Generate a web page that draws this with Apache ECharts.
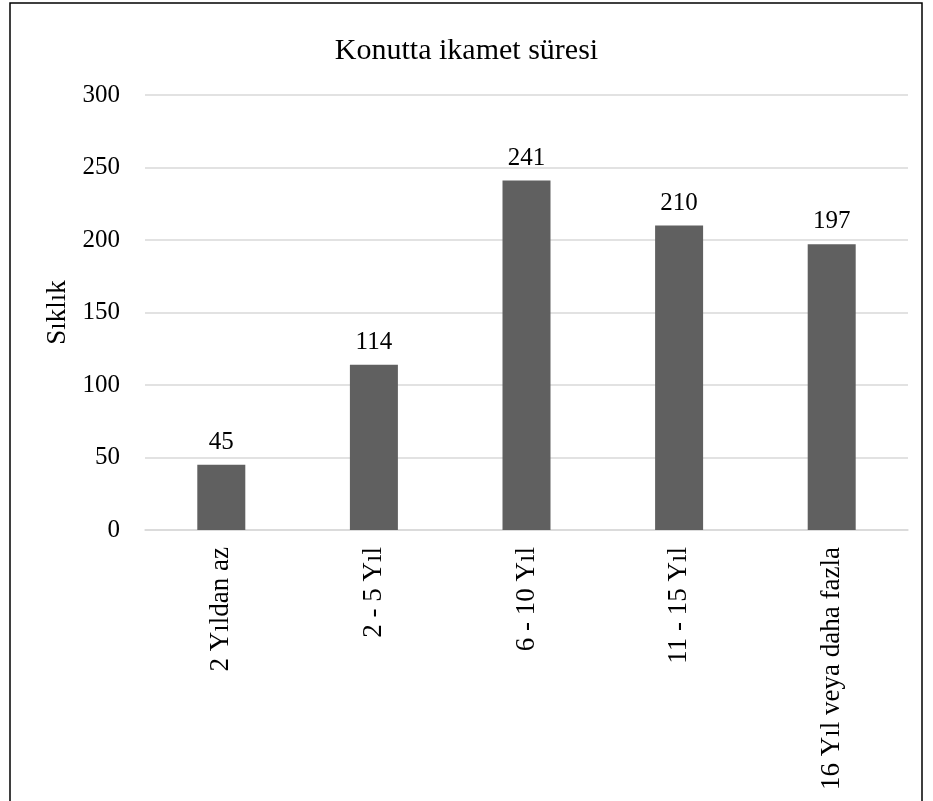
<!DOCTYPE html>
<html><head><meta charset="utf-8">
<script src="https://cdn.jsdelivr.net/npm/echarts@6/dist/echarts.min.js"></script>
<style>html,body{margin:0;padding:0;background:#fff;}#c{width:933px;height:801px;}</style>
</head><body><div id="c"></div>
<script>
const categories = ["2 Yıldan az", "2 - 5 Yıl", "6 - 10 Yıl", "11 - 15 Yıl", "16 Yıl veya daha fazla"];
const values = [45, 114, 241, 210, 197];
const titleText = "Konutta ikamet süresi";
const yAxisName = "Sıklık";
const font = "'Liberation Serif', 'DejaVu Serif', serif";
const chart = echarts.init(document.getElementById('c'));
chart.setOption({
  animation: false,
  backgroundColor: '#fff',
  textStyle: {fontFamily: font},
  title: {text: titleText, left: 'center', top: 31, textStyle: {fontFamily: font, fontSize: 30, fontWeight: 'normal', color: '#000'}},
  grid: {left: 145, right: 25, top: 95, bottom: 271, containLabel: false},
  xAxis: {
    type: 'category', data: categories,
    axisLine: {lineStyle: {color: '#d9d9d9', width: 1.5}},
    axisTick: {show: false},
    axisLabel: {rotate: 90, fontFamily: font, fontSize: 27, color: '#000', margin: 17, interval: 0}
  },
  yAxis: {
    type: 'value', min: 0, max: 300, interval: 50,
    name: yAxisName, nameLocation: 'middle', nameGap: 69, nameRotate: 90,
    nameTextStyle: {fontFamily: font, fontSize: 27, color: '#000'},
    axisLine: {show: false}, axisTick: {show: false},
    axisLabel: {fontFamily: font, fontSize: 25, color: '#000', margin: 25},
    splitLine: {lineStyle: {color: '#d9d9d9', width: 1.5}}
  },
  series: [{
    type: 'bar', data: values, barWidth: 48,
    itemStyle: {color: '#606060'},
    label: {show: true, position: 'top', distance: 10, fontFamily: font, fontSize: 25, color: '#000'}
  }],
  graphic: [{type: 'rect', shape: {x: 10, y: 3, width: 912, height: 830}, style: {fill: 'none', stroke: '#000', lineWidth: 1.5}, silent: true}]
});
</script></body></html>
